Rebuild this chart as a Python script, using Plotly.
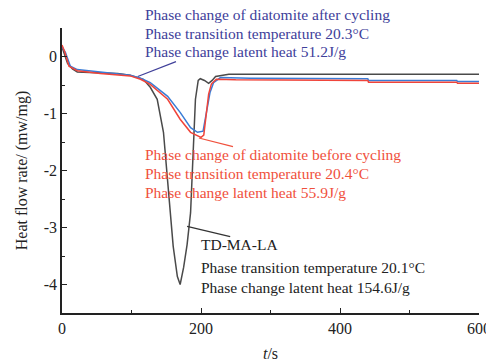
import plotly.graph_objects as go

# ---- data ----
t_black = [0, 3, 8, 15, 22, 40, 60, 80, 98, 117, 127, 137, 146, 152, 156, 160, 166, 170, 175, 180, 185, 187, 192, 196, 199, 205, 211, 216, 221, 240, 300, 400, 500, 600]
black = [0.17, 0.05, -0.12, -0.22, -0.27, -0.28, -0.29, -0.30, -0.33, -0.40, -0.54, -0.75, -1.33, -2.16, -2.74, -3.33, -3.86, -4.0, -3.7, -3.3, -2.74, -2.16, -0.75, -0.42, -0.39, -0.42, -0.47, -0.42, -0.35, -0.31, -0.31, -0.31, -0.31, -0.31]

t_blue = [0, 5, 12, 22, 55, 98, 113, 127, 152, 170, 185, 195, 203, 209, 213, 218, 228, 271, 440, 441, 568, 569, 600]
blue = [0.17, 0.07, -0.17, -0.23, -0.27, -0.33, -0.38, -0.46, -0.70, -0.98, -1.25, -1.33, -1.31, -0.93, -0.63, -0.46, -0.37, -0.38, -0.39, -0.42, -0.42, -0.44, -0.44]

t_red = [0, 4, 10, 22, 55, 98, 113, 127, 152, 170, 185, 195, 200, 204, 208, 211, 215, 222, 250, 440, 441, 568, 569, 600]
red = [0.2, 0.08, -0.17, -0.25, -0.30, -0.34, -0.40, -0.49, -0.75, -1.10, -1.33, -1.40, -1.42, -1.38, -0.95, -0.66, -0.48, -0.40, -0.41, -0.42, -0.45, -0.45, -0.47, -0.47]

y_ticks = [0, -1, -2, -3, -4]
y_labels = ["0", "-1", "-2", "-3", "-4"]
x_ticks = [0, 200, 400, 600]
x_labels = ["0", "200", "400", "600"]

blue_txt = ["Phase change of diatomite after cycling", "Phase transition temperature 20.3°C", "Phase change latent heat 51.2J/g"]
red_txt = ["Phase change of diatomite before cycling", "Phase transition temperature 20.4°C", "Phase change latent heat 55.9J/g"]
black_txt = ["TD-MA-LA", "Phase transition temperature 20.1°C", "Phase change latent heat 154.6J/g"]

FONT = "Liberation Serif"
C_BLACK = "#4a4a4a"
C_BLUE = "#3a7cd6"
C_RED = "#f0443a"
T_BLUE = "#40409a"
T_RED = "#f0503c"
T_BLACK = "#222222"

fig = go.Figure()
fig.add_trace(go.Scatter(x=t_black, y=black, mode="lines", line=dict(color=C_BLACK, width=1.5)))
fig.add_trace(go.Scatter(x=t_blue, y=blue, mode="lines", line=dict(color=C_BLUE, width=1.5)))
fig.add_trace(go.Scatter(x=t_red, y=red, mode="lines", line=dict(color=C_RED, width=1.5)))

# leader lines
fig.add_shape(type="line", x0=109, y0=-0.35, x1=164, y1=-0.09, line=dict(color=T_BLUE, width=1.2))
fig.add_shape(type="line", x0=197, y0=-1.43, x1=246, y1=-1.58, line=dict(color=T_RED, width=1.2))
fig.add_shape(type="line", x0=180, y0=-2.98, x1=242, y1=-3.16, line=dict(color="#333333", width=1.2))

def add_text(lines, x, ys, color, yref="y"):
    for txt, y in zip(lines, ys):
        fig.add_annotation(x=x, y=y, xref="x", yref=yref, text=txt, showarrow=False,
                           xanchor="left", yanchor="middle",
                           font=dict(family=FONT, size=15.5, color=color))

add_text(blue_txt, 117, [1.046, 0.982, 0.916], T_BLUE, yref="paper")
add_text(red_txt, 117, [-1.72, -2.06, -2.39], T_RED)
add_text(black_txt, 197, [-3.3, -3.7, -4.05], T_BLACK)

fig.update_layout(
    width=486, height=364,
    margin=dict(l=62, r=7, t=28, b=51),
    paper_bgcolor="white", plot_bgcolor="white",
    showlegend=False,
    font=dict(family=FONT, size=16, color="#222222"),
)
fig.update_xaxes(range=[0, 600], tickvals=x_ticks, ticktext=x_labels, ticklabeloverflow="allow",
                 automargin=False,
                 showline=True, linecolor="#222", linewidth=1.5, showgrid=False, zeroline=False,
                 ticks="inside", ticklen=5, tickcolor="#222",
                 minor=dict(tickvals=[100, 300, 500], ticks="inside", ticklen=3, tickcolor="#222"),
                 title=dict(text="<i>t</i>/s", font=dict(family=FONT, size=16), standoff=12))
fig.update_yaxes(range=[-4.5, 0.5], tickvals=y_ticks, ticktext=y_labels,
                 automargin=False,
                 showline=True, linecolor="#222", linewidth=1.5, showgrid=False, zeroline=False,
                 ticks="inside", ticklen=5, tickcolor="#222",
                 minor=dict(tickvals=[0.5, -0.5, -1.5, -2.5, -3.5], ticks="inside", ticklen=3, tickcolor="#222"),
                 title=dict(text="Heat flow rate/ (mw/mg)", font=dict(family=FONT, size=16), standoff=12))

fig.write_html("out.html")
